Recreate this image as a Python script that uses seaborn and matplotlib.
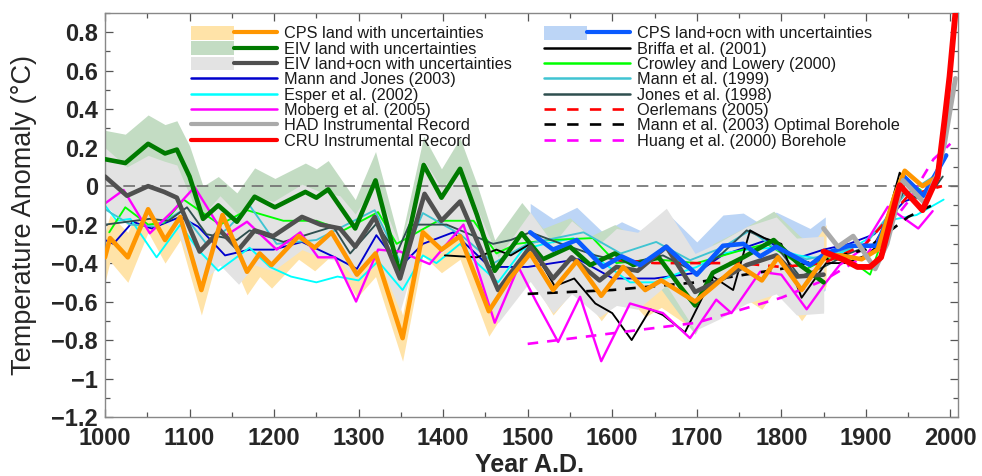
import numpy as np
import seaborn as sns
import matplotlib.pyplot as plt
from matplotlib.lines import Line2D
from matplotlib.patches import Patch
from matplotlib.legend_handler import HandlerTuple
from matplotlib.ticker import MultipleLocator, FixedLocator, FuncFormatter

# ---- reconstructions with uncertainty bands (temperature anomaly, deg C) ----
cps_land_years = [1000, 1006, 1027, 1051, 1071, 1089, 1114, 1139, 1168, 1183,
                  1197, 1229, 1248, 1268, 1298, 1320, 1352, 1376, 1398, 1420,
                  1454, 1479, 1503, 1530, 1558, 1587, 1613, 1639, 1658, 1698,
                  1720, 1749, 1777, 1796, 1824, 1853, 1870, 1895, 1914, 1934,
                  1946, 1967, 1985]
cps_land_vals = [-0.37, -0.27, -0.37, -0.12, -0.28, -0.16, -0.54, -0.15, -0.445, -0.35,
                 -0.41, -0.26, -0.32, -0.24, -0.46, -0.35, -0.79, -0.24, -0.33, -0.26,
                 -0.65, -0.48, -0.35, -0.54, -0.39, -0.57, -0.42, -0.54, -0.49, -0.60,
                 -0.52, -0.41, -0.49, -0.37, -0.54, -0.36, -0.36, -0.38, -0.33, -0.05,
                 0.08, 0.0, 0.05]
cps_land_err = [0.13, 0.12, 0.13, 0.12, 0.12, 0.12, 0.13, 0.12, 0.12, 0.12,
                0.12, 0.12, 0.12, 0.12, 0.12, 0.12, 0.12, 0.12, 0.12, 0.12,
                0.13, 0.13, 0.12, 0.13, 0.13, 0.13, 0.13, 0.14, 0.14, 0.15,
                0.15, 0.15, 0.15, 0.15, 0.16, 0.16]

eiv_land_years = [1000, 1024, 1051, 1071, 1085, 1100, 1116, 1134, 1156, 1177,
                  1201, 1237, 1250, 1264, 1296, 1320, 1349, 1377, 1398, 1420,
                  1440, 1461, 1493, 1518, 1550, 1574, 1603, 1625, 1655, 1680,
                  1698, 1719, 1755, 1791, 1822, 1850]
eiv_land_vals = [0.14, 0.12, 0.22, 0.17, 0.19, 0.05, -0.17, -0.10, -0.185, -0.055,
                 -0.11, -0.03, -0.06, -0.017, -0.22, 0.03, -0.46, 0.11, -0.06, 0.09,
                 -0.15, -0.44, -0.245, -0.38, -0.315, -0.41, -0.35, -0.41, -0.37, -0.52,
                 -0.62, -0.45, -0.37, -0.28, -0.41, -0.50]
eiv_land_err = [0.15, 0.15, 0.15, 0.15, 0.15, 0.16, 0.17, 0.15, 0.15, 0.15,
                0.15, 0.15, 0.15, 0.15, 0.15, 0.15, 0.16, 0.15, 0.15, 0.16,
                0.16, 0.16, 0.16, 0.16, 0.15, 0.15, 0.15, 0.15, 0.15, 0.15,
                0.15, 0.15, 0.15, 0.15, 0.15, 0.15]

eiv_ocn_years = [1000, 1026, 1051, 1070, 1085, 1112, 1136, 1158, 1177, 1199,
                 1233, 1255, 1278, 1296, 1319, 1349, 1378, 1398, 1420, 1465,
                 1503, 1530, 1552, 1585, 1605, 1630, 1664, 1698, 1727, 1759,
                 1794, 1818, 1850]
eiv_ocn_vals = [0.05, -0.05, 0.0, -0.03, -0.06, -0.34, -0.23, -0.33, -0.23, -0.26,
                -0.16, -0.20, -0.22, -0.315, -0.16, -0.48, -0.04, -0.18, -0.08, -0.54,
                -0.315, -0.48, -0.37, -0.49, -0.42, -0.44, -0.315, -0.55, -0.49, -0.41,
                -0.36, -0.47, -0.46]
eiv_ocn_err = [0.15, 0.15, 0.16, 0.16, 0.17, 0.17, 0.18, 0.18, 0.18, 0.18,
               0.17, 0.17, 0.17, 0.17, 0.17, 0.17, 0.17, 0.17, 0.17, 0.17,
               0.18, 0.18, 0.19, 0.19, 0.2, 0.2, 0.2, 0.2, 0.2, 0.2,
               0.2, 0.2, 0.2]

cps_ocn_years = [1503, 1530, 1558, 1589, 1611, 1633, 1664, 1700, 1731, 1755,
                 1775, 1794, 1834, 1852, 1880, 1913, 1945, 1968, 1995]
cps_ocn_vals = [-0.24, -0.33, -0.28, -0.42, -0.365, -0.41, -0.315, -0.46, -0.31, -0.30,
                -0.365, -0.315, -0.41, -0.35, -0.31, -0.31, 0.05, -0.05, 0.16]
cps_ocn_err = [0.15, 0.16, 0.17, 0.18, 0.18, 0.18, 0.18, 0.17, 0.16, 0.16,
               0.17, 0.18, 0.19, 0.19]

# ---- earlier reconstructions ----
mj_years = [1000, 1010, 1033, 1055, 1089, 1110, 1142, 1171, 1199, 1233,
            1272, 1298, 1321, 1349, 1376, 1412, 1455, 1500, 1530, 1560,
            1601, 1650, 1700, 1730, 1783, 1815, 1850, 1880, 1910, 1945,
            1965, 1980]
mj_vals = [-0.28, -0.30, -0.185, -0.22, -0.16, -0.21, -0.36, -0.33, -0.33, -0.29,
           -0.37, -0.43, -0.255, -0.42, -0.30, -0.24, -0.42, -0.42, -0.40, -0.38,
           -0.48, -0.48, -0.45, -0.36, -0.28, -0.38, -0.33, -0.30, -0.25, -0.08,
           -0.05, 0.0]

esper_years = [1000, 1014, 1030, 1061, 1089, 1110, 1134, 1171, 1195, 1220,
               1250, 1275, 1300, 1323, 1352, 1376, 1392, 1420, 1440, 1465,
               1494, 1520, 1554, 1590, 1621, 1650, 1680, 1700, 1730, 1760,
               1790, 1820, 1850, 1880, 1900, 1925, 1960, 1992]
esper_vals = [-0.10, -0.18, -0.17, -0.37, -0.20, -0.33, -0.44, -0.32, -0.42, -0.47,
              -0.50, -0.47, -0.49, -0.39, -0.54, -0.36, -0.40, -0.30, -0.40, -0.50,
              -0.33, -0.30, -0.27, -0.40, -0.50, -0.50, -0.45, -0.42, -0.35, -0.33,
              -0.32, -0.36, -0.38, -0.33, -0.28, -0.18, -0.15, -0.07]

moberg_years = [1000, 1022, 1053, 1080, 1106, 1142, 1168, 1203, 1231, 1252,
                1272, 1297, 1323, 1349, 1384, 1424, 1461, 1489, 1510, 1536,
                1562, 1587, 1621, 1660, 1692, 1723, 1741, 1775, 1800, 1830,
                1852, 1869, 1895, 1926, 1962, 1979]
moberg_vals = [-0.09, -0.02, -0.245, -0.13, -0.005, -0.26, -0.185, -0.33, -0.24, -0.37,
               -0.37, -0.60, -0.33, -0.34, -0.405, -0.20, -0.71, -0.42, -0.60, -0.81,
               -0.575, -0.91, -0.61, -0.66, -0.79, -0.59, -0.66, -0.445, -0.46, -0.64,
               -0.505, -0.41, -0.33, -0.107, -0.22, -0.13]

briffa_years = [1402, 1440, 1463, 1480, 1503, 1532, 1555, 1580, 1600, 1623,
                1645, 1660, 1686, 1719, 1743, 1763, 1780, 1800, 1824, 1853,
                1876, 1900, 1917, 1940, 1960]
briffa_vals = [-0.36, -0.37, -0.33, -0.36, -0.30, -0.52, -0.48, -0.61, -0.66, -0.80,
               -0.64, -0.67, -0.76, -0.47, -0.54, -0.23, -0.27, -0.30, -0.58, -0.40,
               -0.40, -0.36, -0.30, 0.07, -0.05]

cl_years = [1005, 1024, 1051, 1070, 1093, 1136, 1168, 1211, 1250,
            1282, 1323, 1345, 1394, 1436, 1463, 1487, 1526, 1577, 1605,
            1650, 1700, 1755, 1783, 1830, 1852, 1880, 1905, 1945, 1965]
cl_vals = [-0.24, -0.11, -0.20, -0.19, -0.07, -0.20, -0.125, -0.18, -0.18,
           -0.23, -0.135, -0.30, -0.18, -0.18, -0.35, -0.30, -0.28, -0.27, -0.40,
           -0.38, -0.40, -0.33, -0.30, -0.43, -0.38, -0.38, -0.46, 0.04, -0.02]

m99_years = [1000, 1030, 1060, 1090, 1120, 1145, 1171, 1203, 1250,
             1319, 1350, 1376, 1420, 1460, 1500, 1566, 1610, 1652, 1692,
             1730, 1763, 1795, 1830, 1852, 1900, 1945, 1980]
m99_vals = [-0.12, -0.20, -0.21, -0.13, -0.30, -0.22, -0.10, -0.30, -0.28,
            -0.125, -0.40, -0.14, -0.25, -0.40, -0.30, -0.24, -0.35, -0.29, -0.385,
            -0.32, -0.23, -0.33, -0.38, -0.36, -0.30, -0.05, 0.05]

j98_years = [1000, 1053, 1075, 1097, 1120, 1156, 1171, 1211, 1270, 1290,
             1321, 1345, 1360, 1404, 1459, 1480, 1503, 1540, 1580, 1620,
             1660, 1700, 1730, 1759, 1790, 1822, 1850, 1880, 1910, 1945,
             1970, 1991]
j98_vals = [-0.20, -0.17, -0.18, -0.11, -0.25, -0.28, -0.23, -0.29, -0.21, -0.35,
            -0.195, -0.35, -0.20, -0.20, -0.30, -0.28, -0.24, -0.30, -0.36, -0.40,
            -0.36, -0.45, -0.35, -0.23, -0.29, -0.47, -0.42, -0.35, -0.30, -0.03,
            -0.08, 0.05]

oer_years = [1600, 1650, 1700, 1750, 1800, 1850, 1900, 1950, 1990]
oer_vals = [-0.38, -0.40, -0.40, -0.40, -0.42, -0.40, -0.30, -0.05, 0.0]

mbore_years = [1500, 1600, 1700, 1800, 1850, 1900, 1950, 1978]
mbore_vals = [-0.56, -0.54, -0.50, -0.43, -0.38, -0.33, -0.16, -0.10]

huang_years = [1500, 1600, 1700, 1800, 1850, 1900, 1950, 1980, 2000]
huang_vals = [-0.82, -0.765, -0.71, -0.58, -0.49, -0.36, -0.08, 0.14, 0.22]

# ---- instrumental records ----
had_years = [1850, 1867, 1885, 1911, 1925, 1944, 1970, 1985, 1993, 2006]
had_vals = [-0.22, -0.315, -0.26, -0.43, -0.30, 0.03, -0.09, 0.07, 0.22, 0.56]

cru_years = [1850, 1875, 1890, 1905, 1918, 1940, 1967, 1985, 1993, 1999, 2007]
cru_vals = [-0.34, -0.385, -0.42, -0.42, -0.37, 0.005, -0.125, 0.05, 0.34, 0.57, 0.95]

y_ticks = [-1.2, -1.0, -0.8, -0.6, -0.4, -0.2, 0.0, 0.2, 0.4, 0.6, 0.8]

sns.set_style("ticks")
plt.rcParams['font.family'] = ['Liberation Sans', 'DejaVu Sans']

fig = plt.figure(figsize=(9.82, 4.76), dpi=100)
ax = fig.add_axes([105 / 982, 59 / 476, 853 / 982, 404 / 476])


def band(years, vals, err, color):
    n = len(err)
    x = np.array(years[:n])
    v = np.array(vals[:n])
    e = np.array(err)
    ax.fill_between(x, v - e, v + e, color=color, lw=0, zorder=1)


def curve(years, vals, color, lw, ls="-", z=2):
    sns.lineplot(x=years, y=vals, ax=ax, color=color, linewidth=lw,
                 linestyle=ls, zorder=z, estimator=None, sort=False)


# uncertainty bands
band(cps_ocn_years, cps_ocn_vals, cps_ocn_err, "#bcd5f6")
band(cps_land_years, cps_land_vals, cps_land_err, "#ffe3a8")
band(eiv_land_years, eiv_land_vals, eiv_land_err, "#c3dcc3")
band(eiv_ocn_years, eiv_ocn_vals, eiv_ocn_err, "#e3e3e3")

ax.axhline(0, color="#6e6e6e", lw=1.2, ls=(0, (7, 4)), zorder=1.5)

dash = (0, (4, 3.4))
thin = 1.35
# thin reconstructions
curve(mj_years, mj_vals, "#0000cd", thin)
curve(esper_years, esper_vals, "#00ffff", thin)
curve(cl_years, cl_vals, "#00ff00", thin)
curve(m99_years, m99_vals, "#40c4d2", thin)
curve(j98_years, j98_vals, "#2f4f4f", thin)
curve(briffa_years, briffa_vals, "#000000", thin)
curve(moberg_years, moberg_vals, "#ff00ff", 1.7)
curve(oer_years, oer_vals, "#ff0000", 1.9, dash, 2.4)
curve(mbore_years, mbore_vals, "#000000", 1.9, dash, 2.4)
curve(huang_years, huang_vals, "#ff00ff", 1.9, dash, 2.4)

# main reconstructions and instrumental records
curve(eiv_land_years, eiv_land_vals, "#007a00", 3.3, z=3)
curve(eiv_ocn_years, eiv_ocn_vals, "#505050", 3.3, z=3.1)
curve(cps_ocn_years, cps_ocn_vals, "#0a5aff", 3.3, z=3.2)
curve(cps_land_years, cps_land_vals, "#ff9600", 3.3, z=3.3)
curve(had_years, had_vals, "#aaaaaa", 3.5, z=3.4)
curve(cru_years, cru_vals, "#ff0000", 4.2, z=3.5)

# axes
ax.set_xlim(1000, 2009)
ax.set_ylim(-1.2, 0.9)
ax.xaxis.set_major_locator(MultipleLocator(100))
ax.xaxis.set_minor_locator(MultipleLocator(50))
ax.yaxis.set_major_locator(FixedLocator(y_ticks))
ax.yaxis.set_minor_locator(MultipleLocator(0.1))


def yfmt(v, pos):
    s = f"{v:.1f}"
    if s.endswith(".0"):
        s = s[:-2]
    if s == "-0":
        s = "0"
    return s.replace("-", "\u2212")


ax.yaxis.set_major_formatter(FuncFormatter(yfmt))
ax.tick_params(which="both", direction="in", top=True, right=True,
               color="#555555", width=0.9)
ax.tick_params(which="major", length=6)
ax.tick_params(which="minor", length=3.5)
ax.tick_params(axis="y", labelsize=17, pad=5)
ax.tick_params(axis="x", labelsize=17, pad=7)
for lab in ax.get_xticklabels() + ax.get_yticklabels():
    lab.set_fontweight("bold")
for sp in ax.spines.values():
    sp.set_color("#888888")
    sp.set_linewidth(1.0)

ax.set_xlabel("Year A.D.", fontsize=18, fontweight="bold")
ax.set_ylabel("Temperature Anomaly (\u00b0C)", fontsize=19.5)
ax.xaxis.set_label_coords(0.498, -0.088)
ax.yaxis.set_label_coords(-0.08, 0.5)


# legend
def key(color, lw, ls="-", shade=None):
    ln = Line2D([], [], color=color, lw=lw, linestyle=ls)
    if shade:
        return (Patch(facecolor=shade, edgecolor="none"), ln)
    return ln


handles = [
    key("#ff9600", 3.0, shade="#ffe3a8"),
    key("#007a00", 3.0, shade="#c3dcc3"),
    key("#505050", 3.0, shade="#e3e3e3"),
    key("#0000cd", 1.8),
    key("#00ffff", 1.8),
    key("#ff00ff", 1.8),
    key("#aaaaaa", 3.0),
    key("#ff0000", 3.0),
    key("#0a5aff", 3.0, shade="#bcd5f6"),
    key("#000000", 1.8),
    key("#00ff00", 1.8),
    key("#40c4d2", 1.8),
    key("#2f4f4f", 1.8),
    key("#ff0000", 1.9, (0, (4.3, 4.3))),
    key("#000000", 1.9, (0, (4.3, 4.3))),
    key("#ff00ff", 1.9, (0, (4.3, 4.3))),
]
labels = [
    "CPS land with uncertainties", "EIV land with uncertainties",
    "EIV land+ocn with uncertainties", "Mann and Jones (2003)",
    "Esper et al. (2002)", "Moberg et al. (2005)",
    "HAD Instrumental Record", "CRU Instrumental Record",
    "CPS land+ocn with uncertainties", "Briffa et al. (2001)",
    "Crowley and Lowery (2000)", "Mann et al. (1999)",
    "Jones et al. (1998)", "Oerlemans (2005)",
    "Mann et al. (2003) Optimal Borehole", "Huang et al. (2000) Borehole",
]
leg = ax.legend(handles, labels, ncol=2, loc="upper left",
                bbox_to_anchor=((191 - 105) / 853, (417 - 26) / 404),
                frameon=False, fontsize=11.7, handlelength=5.3,
                handleheight=0.93, handletextpad=0.43, labelspacing=-0.01,
                columnspacing=1.97, borderpad=0, borderaxespad=0,
                handler_map={tuple: HandlerTuple(ndivide=None, pad=0)})
for t in leg.get_texts():
    t.set_color("#1a1a1a")

fig.savefig("out.png", dpi=100, facecolor="white")
